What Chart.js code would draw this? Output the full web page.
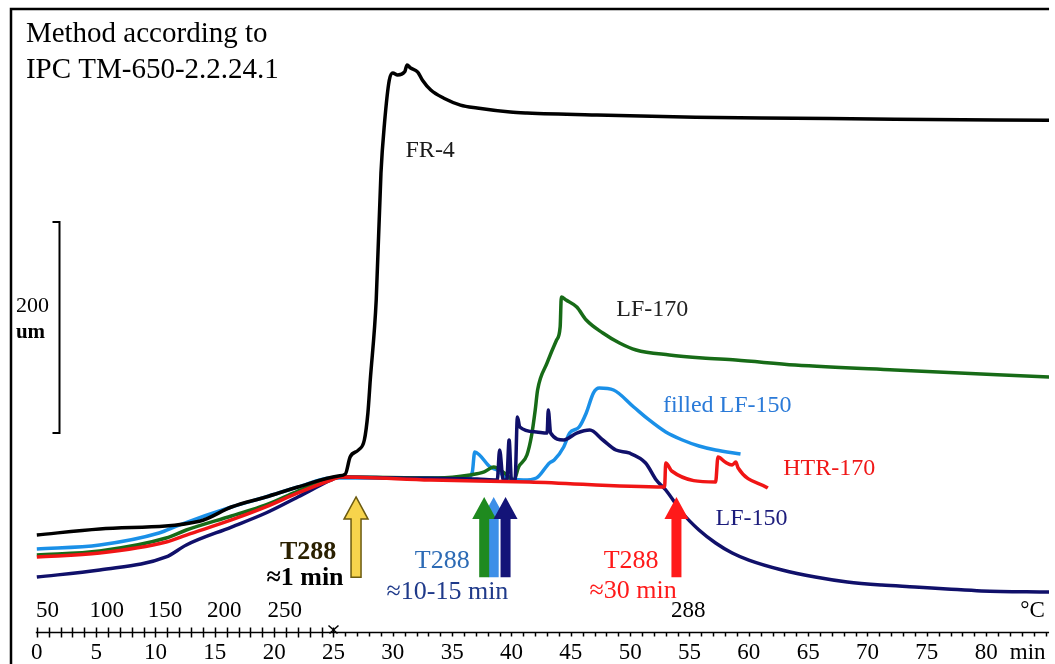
<!DOCTYPE html>
<html>
<head>
<meta charset="utf-8">
<style>
  html, body { margin: 0; padding: 0; background: #fff; overflow: hidden; }
  canvas { display: block; }
</style>
<script src="https://cdn.jsdelivr.net/npm/chart.js@4.4.1/dist/chart.umd.min.js"></script>
</head>
<body>
<canvas id="chart" width="1055" height="674"></canvas>
<script>
/* TMA expansion curves at 288 °C (IPC TM-650-2.2.24.1)
   x = time in min, y = dimension change in um (axis itself hidden, 200 um bar drawn)
*/
const SERIF = '"Liberation Serif", "Times New Roman", serif';

// axes
const minuteLabels = [0, 5, 10, 15, 20, 25, 30, 35, 40, 45, 50, 55, 60, 65, 70, 75, 80];
const minuteUnitAt = 83.5;
const tempLabels = ['50', '100', '150', '200', '250', '288', '°C'];
const tempLabelAt = [0.9, 5.9, 10.8, 15.8, 20.9, 54.9, 83.9];
const X_MIN = -2.26, X_MAX = 85.3;
const Y_MIN = 0, Y_MAX = 591.5;

// curves (min / um)
const fr4Min = [0, 5.3, 13.7, 16.4, 19.3, 22.0, 25.4, 26.0, 26.4, 27.1, 27.6, 27.9, 28.1, 28.6, 29.0, 29.3, 29.7, 30.0, 30.4, 31.0, 31.2, 31.5, 32.1, 32.5, 33.2, 34.3, 35.7, 37.1, 39.9, 41.3, 47.2, 55.5, 63.9, 72.3, 85.3];
const fr4Um  = [92, 97.6, 105, 118.5, 128, 137.4, 147.9, 149.8, 165.9, 172.5, 182, 207.6, 238.9, 314.7, 435, 482.5, 523, 530, 528, 531, 537.4, 534.6, 530.8, 523, 513.7, 506, 499.5, 496.7, 492.9, 492, 490, 488, 487, 486, 485];

const lf170Min = [0, 5.3, 10.9, 12.6, 16.4, 19.3, 22.0, 24.8, 25.6, 33.8, 36.5, 37.7, 38.5, 39.4, 40.2, 40.6, 41.3, 41.7, 42.0, 42.2, 43.0, 43.8, 44.1, 44.2, 44.6, 45.5, 46.3, 47.7, 49.1, 50.5, 53.3, 56.1, 58.9, 63.9, 72.3, 85.3];
const lf170Um  = [73, 76.8, 89.1, 96.7, 110, 120.4, 133.6, 145, 146.9, 146, 148.8, 151.7, 156.4, 150.7, 144.1, 156.4, 167.8, 186.7, 210.4, 229.4, 255, 276.8, 289.1, 317.5, 314.7, 308.1, 295.7, 283.4, 273.9, 267.3, 262.6, 259.7, 257.8, 253.1, 248.3, 241.7];

const filledMin = [0, 5.3, 10.3, 12.0, 16.4, 19.3, 22.0, 24.8, 30.4, 36.3, 36.7, 36.9, 37.3, 38.2, 38.8, 39.6, 41.0, 42.1, 43.2, 43.6, 44.4, 44.9, 45.7, 46.3, 46.9, 47.4, 48.6, 50.3, 51.6, 53.0, 54.4, 55.8, 57.2, 59.3];
const filledUm  = [78.7, 82.5, 93.8, 101.4, 118.5, 128, 137.4, 146, 146, 146, 151.7, 170.6, 167.8, 156.4, 153.6, 146, 144.1, 146, 160.2, 163, 175.4, 188.6, 194.3, 207.6, 226.5, 231.3, 229.4, 213.3, 201, 189.6, 182, 176.3, 172.5, 168.7];

const htrMin = [0, 5.3, 10.9, 12.6, 16.4, 19.3, 22.0, 24.8, 25.6, 33.2, 41.5, 52.9, 53.0, 53.5, 57.2, 57.4, 58.0, 58.6, 58.9, 59.1, 61.6];
const htrUm  = [71.1, 74.9, 85.3, 91.9, 106.2, 118.5, 131.8, 144.1, 146.9, 144.1, 142.2, 137.4, 160.2, 152.6, 142.2, 165.9, 161.1, 158.3, 161.1, 155.5, 136.5];

const lf150Min = [0, 5.3, 10.9, 12.6, 16.4, 19.3, 22.0, 24.8, 25.4, 30.4, 37.1, 38.8, 39.0, 39.3, 39.6, 39.8, 40.0, 40.3, 40.5, 40.7, 42.1, 43.0, 43.1, 43.3, 44.4, 45.5, 46.6, 47.7, 48.8, 49.9, 51.3, 52.2, 53.0, 54.4, 55.8, 57.2, 58.6, 60.0, 62.8, 65.6, 68.3, 71.2, 74.0, 76.7, 79.6, 85.3];
const lf150Um  = [52.1, 58.8, 71.1, 82.5, 99.5, 112.8, 128, 144.1, 146.9, 146, 145, 144.1, 172.5, 144.1, 144.1, 182, 144.1, 144.1, 203.8, 194.3, 189.6, 188.6, 210.4, 188.6, 182, 188.6, 191.5, 182, 172.5, 169.7, 160.2, 144.1, 134.6, 112.8, 96.7, 84.4, 74.9, 68.2, 58.8, 52.1, 47.4, 44.5, 42.7, 40.8, 38.9, 37.9];

// T288 arrows (min) and their span (um)
const arrowMin = [26.9, 38.5, 37.7, 39.5, 53.9];
const arrowFill = ['#f7d44c', '#3d8fe8', '#1f8a1f', '#141478', '#ff1a1a'];
const arrowTipUm = 128, arrowHeadUm = 107, arrowBaseUm = 52;

// 200 um scale bar
const barMin = 1.84, barFromUm = 188.6, barLenUm = 200;

const zip = (xs, ys) => xs.map((x, i) => ({x, y: ys[i]}));

const series = [
  {label: 'FR-4', min: fr4Min, um: fr4Um, color: '#000000', order: 0},
  {label: 'HTR-170', min: htrMin, um: htrUm, color: '#f01515', order: 1},
  {label: 'LF-150', min: lf150Min, um: lf150Um, color: '#10106a', order: 2},
  {label: 'LF-170', min: lf170Min, um: lf170Um, color: '#176b17', order: 3},
  {label: 'filled LF-150', min: filledMin, um: filledUm, color: '#1a90e8', order: 4},
];

const notes = [
  {text: 'Method according to', m: -0.92, u: 559.2, color: '#000', size: 29},
  {text: 'IPC TM-650-2.2.24.1', m: -0.92, u: 525.1, color: '#000', size: 29},
  {text: 'FR-4', m: 31.07, u: 450.2, color: '#1a1a1a', size: 24},
  {text: 'LF-170', m: 48.83, u: 299.5, color: '#222', size: 24},
  {text: 'filled LF-150', m: 52.76, u: 208.5, color: '#2a7ad8', size: 24},
  {text: 'HTR-170', m: 62.9, u: 148.8, color: '#f01818', size: 24},
  {text: 'LF-150', m: 57.2, u: 101.4, color: '#1c1c7c', size: 24},
  {text: '200', m: -1.76, u: 303.3, color: '#000', size: 22},
  {text: 'um', m: -1.76, u: 278.7, color: '#000', size: 21, bold: true},
  {text: 'T288', m: 22.86, u: 69.2, color: '#2a2000', size: 26, bold: true, align: 'center'},
  {text: '≈1 min', m: 22.6, u: 44.5, color: '#000', size: 26, bold: true, align: 'center'},
  {text: 'T288', m: 34.17, u: 60.7, color: '#2d6bb5', size: 26, align: 'center'},
  {text: '≈10-15 min', m: 34.6, u: 31.3, color: '#1f3a8a', size: 26, align: 'center'},
  {text: 'T288', m: 50.08, u: 60.7, color: '#ff1a1a', size: 26, align: 'center'},
  {text: '≈30 min', m: 50.25, u: 32.2, color: '#ff1a1a', size: 26, align: 'center'},
];

const tickValues = [];
for (let v = -2; v <= 85; v++) tickValues.push(v);
tickValues.push(minuteUnitAt);
tickValues.sort((a, b) => a - b);

const overlay = {
  id: 'overlay',
  afterDatasetsDraw(chart){
    const {ctx, chartArea: a, scales: {x, y}} = chart;
    const px = m => x.getPixelForValue(m);
    const py = u => y.getPixelForValue(u);
    ctx.save();

    // frame (left + top, open to the right)
    ctx.strokeStyle = '#000';
    ctx.lineWidth = 2.5;
    ctx.beginPath();
    ctx.moveTo(a.left + 1, chart.height);
    ctx.lineTo(a.left + 1, a.top + 1);
    ctx.lineTo(a.right, a.top + 1);
    ctx.stroke();

    // time axis line + ticks
    const ay = Math.round(py(0)) + 0.5;
    ctx.lineWidth = 1.5;
    ctx.beginPath();
    ctx.moveTo(px(0) - 1, ay);
    ctx.lineTo(a.right, ay);
    ctx.stroke();
    x.ticks.forEach(t => {
      const v = t.value;
      if (v < 0 || v % 1 !== 0) return;
      const X = Math.round(px(v)) + 0.5;
      ctx.beginPath();
      if (v <= 25){ ctx.moveTo(X, ay - 5); ctx.lineTo(X, ay + 5); }
      else { ctx.moveTo(X, ay); ctx.lineTo(X, ay + 4); }
      ctx.stroke();
    });
    // start-of-hold mark at 25 min
    const x25 = px(25);
    ctx.beginPath();
    ctx.moveTo(x25 - 5, ay - 7); ctx.lineTo(x25 + 4, ay + 1);
    ctx.moveTo(x25 + 5, ay - 7); ctx.lineTo(x25 - 4, ay + 1);
    ctx.stroke();

    // temperature labels above the axis
    ctx.fillStyle = '#000';
    ctx.font = '23px ' + SERIF;
    ctx.textAlign = 'center';
    ctx.textBaseline = 'middle';
    tempLabels.forEach((t, i) => ctx.fillText(t, px(tempLabelAt[i]), ay - 22));

    // 200 um scale bar
    const bx = Math.round(px(barMin)) + 0.5;
    const b0 = py(barFromUm), b1 = py(barFromUm + barLenUm);
    ctx.lineWidth = 2;
    ctx.beginPath();
    ctx.moveTo(bx - 7, b1); ctx.lineTo(bx, b1); ctx.lineTo(bx, b0); ctx.lineTo(bx - 7, b0);
    ctx.stroke();

    // T288 arrows
    arrowMin.forEach((m, i) => {
      const X = px(m), tip = py(arrowTipUm), head = py(arrowHeadUm), bot = py(arrowBaseUm);
      ctx.beginPath();
      ctx.moveTo(X, tip);
      ctx.lineTo(X + 12, head);
      ctx.lineTo(X + 5, head);
      ctx.lineTo(X + 5, bot);
      ctx.lineTo(X - 5, bot);
      ctx.lineTo(X - 5, head);
      ctx.lineTo(X - 12, head);
      ctx.closePath();
      ctx.fillStyle = arrowFill[i];
      ctx.fill();
      if (i === 0){
        ctx.strokeStyle = '#6b5a10';
        ctx.lineWidth = 1.5;
        ctx.stroke();
      }
    });

    // text notes
    ctx.textBaseline = 'alphabetic';
    notes.forEach(n => {
      ctx.font = (n.bold ? 'bold ' : '') + n.size + 'px ' + SERIF;
      ctx.fillStyle = n.color;
      ctx.textAlign = n.align || 'left';
      ctx.fillText(n.text, px(n.m), py(n.u));
    });
    ctx.restore();
  }
};

const ctx = document.getElementById('chart').getContext('2d');
new Chart(ctx, {
  type: 'line',
  data: {
    datasets: series.map(s => ({
      label: s.label,
      data: zip(s.min, s.um),
      borderColor: s.color,
      backgroundColor: s.color,
      borderWidth: 3.5,
      pointRadius: 0,
      cubicInterpolationMode: 'monotone',
      fill: false,
      order: s.order
    }))
  },
  options: {
    responsive: false,
    animation: false,
    layout: {padding: {left: 10, top: 8, right: 0, bottom: 0}},
    plugins: {legend: {display: false}, tooltip: {enabled: false}},
    scales: {
      x: {
        type: 'linear',
        min: X_MIN,
        max: X_MAX,
        grid: {display: false, drawTicks: false},
        border: {display: false},
        afterBuildTicks: s => { s.ticks = tickValues.map(v => ({value: v})); },
        ticks: {
          autoSkip: false,
          maxRotation: 0,
          padding: 9.5,
          color: '#000',
          font: {family: SERIF, size: 23, lineHeight: 1},
          callback: v => v === minuteUnitAt ? 'min' : (minuteLabels.includes(v) ? String(v) : '')
        }
      },
      y: {type: 'linear', display: false, min: Y_MIN, max: Y_MAX}
    }
  },
  plugins: [overlay]
});
</script>
</body>
</html>
